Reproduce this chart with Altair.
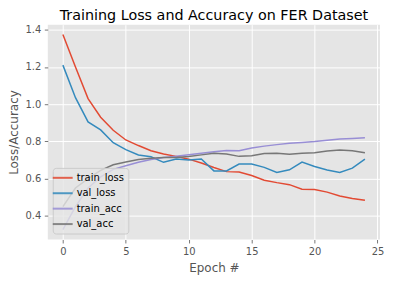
import altair as alt
import pandas as pd

epochs = list(range(25))
train_loss = [1.375, 1.20, 1.03, 0.93, 0.86, 0.808, 0.778, 0.75, 0.733, 0.72, 0.705, 0.684,
              0.66, 0.638, 0.636, 0.617, 0.592, 0.579, 0.568, 0.544, 0.542, 0.528, 0.507, 0.494, 0.484]
val_loss = [1.21, 1.035, 0.905, 0.862, 0.793, 0.756, 0.727, 0.718, 0.688, 0.706, 0.701, 0.706,
            0.642, 0.642, 0.679, 0.679, 0.661, 0.634, 0.648, 0.689, 0.666, 0.647, 0.634, 0.657, 0.705]
train_acc = [0.326, 0.45, 0.55, 0.61, 0.65, 0.67, 0.688, 0.703, 0.714, 0.72, 0.729, 0.737,
             0.745, 0.752, 0.75, 0.765, 0.775, 0.783, 0.79, 0.795, 0.80, 0.807, 0.813, 0.816, 0.82]
val_acc = [0.45, 0.55, 0.60, 0.645, 0.675, 0.69, 0.703, 0.71, 0.714, 0.714, 0.719, 0.728,
           0.737, 0.733, 0.72, 0.723, 0.735, 0.737, 0.731, 0.737, 0.739, 0.749, 0.754, 0.75, 0.74]

series_names = ["train_loss", "val_loss", "train_acc", "val_acc"]
series_colors = ["#E24A33", "#348ABD", "#988ED5", "#777777"]
x_ticks = [0, 5, 10, 15, 20, 25]
y_ticks = [0.4, 0.6, 0.8, 1.0, 1.2, 1.4]

rows = []
for name, vals in zip(series_names, [train_loss, val_loss, train_acc, val_acc]):
    for e, v in zip(epochs, vals):
        rows.append({"epoch": e, "value": v, "series": name, "order": series_names.index(name)})
df = pd.DataFrame(rows)

# matplotlib-style 5% margins
xmin, xmax = min(epochs), max(epochs)
xm = 0.05 * (xmax - xmin)
allv = train_loss + val_loss + train_acc + val_acc
ymin, ymax = min(allv), max(allv)
ym = 0.05 * (ymax - ymin)

FONT = "DejaVu Sans"

chart = alt.Chart(df).mark_line(strokeWidth=1.5).encode(
    x=alt.X("epoch:Q",
            scale=alt.Scale(domain=[xmin - xm, xmax + xm], nice=False, zero=False),
            axis=alt.Axis(values=x_ticks, format="d", title="Epoch #")),
    y=alt.Y("value:Q",
            scale=alt.Scale(domain=[ymin - ym, ymax + ym], nice=False, zero=False),
            axis=alt.Axis(values=y_ticks, format=".1f", title="Loss/Accuracy")),
    color=alt.Color("series:N",
                    scale=alt.Scale(domain=series_names, range=series_colors),
                    legend=alt.Legend(title=None, orient="none", legendX=5, legendY=144,
                                      symbolType="M-2,0H2", symbolSize=100, symbolStrokeWidth=2,
                                      symbolOpacity=0.85,
                                      labelFontSize=10, labelFont=FONT, labelColor="black",
                                      labelOffset=8, rowPadding=4.5, padding=4,
                                      fillColor="rgba(229,229,229,0.8)", strokeColor="#cccccc",
                                      cornerRadius=3)),
    detail="series:N",
    order="order:Q",
).properties(
    width=334, height=216,
    title=alt.TitleParams("Training Loss and Accuracy on FER Dataset", fontSize=14.4,
                          font=FONT, fontWeight="normal", color="black", offset=1.5),
    autosize=alt.AutoSizeParams(type="none"),
    padding={"left": 40, "top": 16, "right": 5, "bottom": 40},
).configure_view(
    fill="#E5E5E5", stroke=None
).configure_axis(
    domain=False, grid=True, gridColor="white", gridWidth=1,
    tickColor="#555555", tickSize=3.5, tickWidth=0.8,
    labelColor="#555555", labelFont=FONT, labelFontSize=10, labelPadding=3.5,
    titleColor="#555555", titleFont=FONT, titleFontSize=12, titleFontWeight="normal",
).configure_axisX(
    titlePadding=6
).configure_axisY(
    titlePadding=5
)

chart.save("out.html", embed_options={"renderer": "svg", "actions": False})
